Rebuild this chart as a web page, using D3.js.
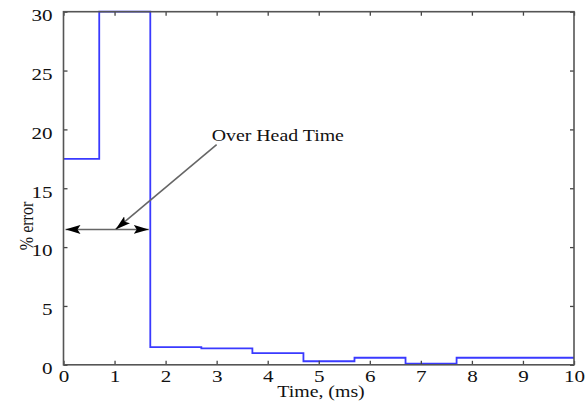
<!DOCTYPE html>
<html>
<head>
<meta charset="utf-8">
<script src="https://cdn.jsdelivr.net/npm/d3@7"></script>
<style>
  html, body { margin: 0; padding: 0; background: #fff; }
  svg { display: block; }
  text { font-family: "Liberation Serif", "DejaVu Serif", serif; fill: #111; }
</style>
</head>
<body>
<svg id="chart" width="588" height="401"></svg>
<script>
// Step boundaries (ms) and the % error held over each interval
const stepEdges = [0, 0.7, 1.7, 2.7, 3.7, 4.7, 5.7, 6.7, 7.7, 10];
const stepValues = [17.5, 30, 1.5, 1.4, 1.0, 0.3, 0.6, 0.1, 0.6];

const xTicks = [0, 1, 2, 3, 4, 5, 6, 7, 8, 9, 10];
const yTicks = [0, 5, 10, 15, 20, 25, 30];

// Overhead-time annotation (data coordinates)
const spanStart = 0, spanEnd = 1.67, spanLevel = 11.5;
const calloutFrom = [3.0, 18.7], calloutTo = [1.02, 11.5];
const calloutText = "Over Head Time";

// Glyphs are set a little wider than the font's natural width
const textWiden = 1.24;

const svg = d3.select("#chart");
const plotLeft = 63.5, plotRight = 574, plotTop = 11.7, plotBottom = 364.8;

const x = d3.scaleLinear().domain([0, 10]).range([plotLeft, plotRight]);
const y = d3.scaleLinear().domain([0, 30]).range([plotBottom, plotTop]);

const defs = svg.append("defs");
defs.append("marker")
  .attr("id", "head")
  .attr("viewBox", "0 0 15 9")
  .attr("refX", 15).attr("refY", 4.5)
  .attr("markerWidth", 15).attr("markerHeight", 9)
  .attr("markerUnits", "userSpaceOnUse")
  .attr("orient", "auto-start-reverse")
  .append("path").attr("d", "M0,0 L15,4.5 L0,9 L3,4.5 Z").attr("fill", "#000");

// Step line
const pts = [];
stepValues.forEach((v, i) => {
  pts.push([stepEdges[i], v]);
  pts.push([stepEdges[i + 1], v]);
});
svg.append("path")
  .datum(pts)
  .attr("fill", "none")
  .attr("stroke", "#3a3aff")
  .attr("stroke-width", 1.8)
  .attr("d", d3.line().x(d => x(d[0])).y(d => y(d[1])));

// Axes with inward ticks on all four sides
const axisStyle = g => {
  g.select(".domain").remove();
  g.selectAll(".tick line").attr("stroke", "#444").attr("stroke-width", 1.3);
};
const labelStyle = g => g.selectAll("text")
  .attr("font-size", 17).attr("font-family", "Liberation Serif").attr("fill", "#111");

svg.append("g").attr("transform", `translate(0,${plotBottom})`)
  .call(d3.axisBottom(x).tickValues(xTicks).tickSize(-4).tickPadding(5).tickFormat(d3.format("d")))
  .call(axisStyle)
  .call(labelStyle);
svg.append("g").attr("transform", `translate(0,${plotTop})`)
  .call(d3.axisTop(x).tickValues(xTicks).tickSize(-4).tickFormat(""))
  .call(axisStyle);
svg.append("g").attr("transform", `translate(${plotLeft},0)`)
  .call(d3.axisLeft(y).tickValues(yTicks).tickSize(-4).tickPadding(11).tickFormat(d3.format("d")))
  .call(axisStyle)
  .call(labelStyle)
  .call(g => g.selectAll("text").attr("dy", "0.52em"));
svg.append("g").attr("transform", `translate(${plotRight},0)`)
  .call(d3.axisRight(y).tickValues(yTicks).tickSize(-4).tickFormat(""))
  .call(axisStyle);

svg.append("rect")
  .attr("x", plotLeft).attr("y", plotTop)
  .attr("width", plotRight - plotLeft).attr("height", plotBottom - plotTop)
  .attr("fill", "none").attr("stroke", "#555").attr("stroke-width", 1.6);

// Overhead-time span and callout
svg.append("line")
  .attr("x1", x(spanStart) + 2).attr("x2", x(spanEnd))
  .attr("y1", y(spanLevel)).attr("y2", y(spanLevel))
  .attr("stroke", "#666").attr("stroke-width", 1.6)
  .attr("marker-start", "url(#head)").attr("marker-end", "url(#head)");
svg.append("line")
  .attr("x1", x(calloutFrom[0])).attr("y1", y(calloutFrom[1]))
  .attr("x2", x(calloutTo[0])).attr("y2", y(calloutTo[1]))
  .attr("stroke", "#666").attr("stroke-width", 1.6)
  .attr("marker-end", "url(#head)");
svg.append("text")
  .attr("x", x(calloutFrom[0]) - 5).attr("y", y(calloutFrom[1]) - 4)
  .attr("font-size", 16)
  .text(calloutText);

// Axis titles
svg.append("text")
  .attr("x", 321).attr("y", 396.5)
  .attr("text-anchor", "middle").attr("font-size", 16)
  .text("Time, (ms)");
svg.append("text")
  .attr("class", "ytitle")
  .attr("transform", `translate(33,226) scale(${textWiden},1) rotate(-90)`)
  .attr("text-anchor", "middle").attr("font-size", 16)
  .text("% error");

// Widen horizontal texts
svg.selectAll("text").filter(function () { return !this.classList.contains("ytitle"); })
  .each(function () {
    const w = this.getComputedTextLength();
    d3.select(this).attr("textLength", w * textWiden).attr("lengthAdjust", "spacingAndGlyphs");
  });
</script>
</body>
</html>
